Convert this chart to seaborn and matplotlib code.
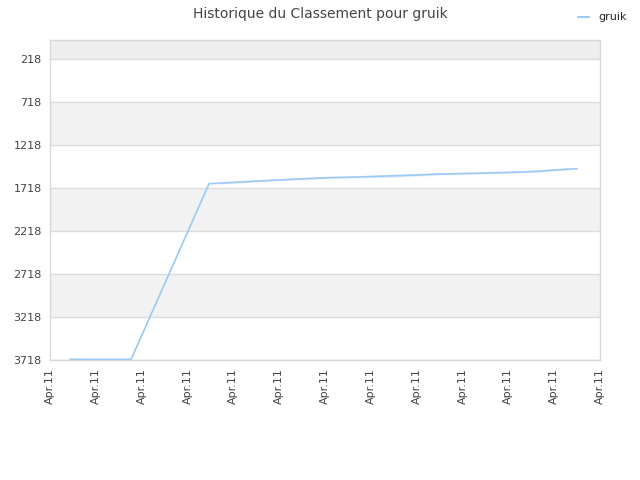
import matplotlib
matplotlib.use("Agg")
import matplotlib.pyplot as plt
import seaborn as sns
import pandas as pd

# Data (x in tick units across April 2011, rank values)
x_pos = [0.44, 0.87, 1.77, 3.47, 3.71, 3.71, 4.08, 4.08, 4.47, 4.47, 4.87, 4.87, 5.26, 5.26,
         5.65, 5.65, 6.04, 6.04, 6.68, 6.68, 7.55, 7.55, 8.42, 8.42, 9.30, 9.30, 10.15, 10.15,
         10.67, 10.67, 10.93, 10.93, 11.28, 11.28, 11.50]
ranks = [3710, 3710, 3710, 1668, 1668, 1656, 1656, 1645, 1645, 1633, 1633, 1621, 1621, 1613,
         1613, 1602, 1602, 1594, 1594, 1587, 1587, 1563, 1563, 1552, 1552, 1540, 1540, 1529,
         1529, 1517, 1517, 1505, 1505, 1494, 1494]
y_ticks = [218, 718, 1218, 1718, 2218, 2718, 3218, 3718]
x_ticks = list(range(13))
x_labels = ["Apr.11"] * 13
series_name = "gruik"
title = "Historique du Classement pour gruik"

df = pd.DataFrame({"x": x_pos, "rank": ranks, "name": series_name})

sns.set_style("white")
fig = plt.figure(figsize=(6.4, 4.8), dpi=100)
ax = fig.add_axes([50/640, 120/480, 550/640, 320/480])

ymin_top = -3
ax.axhspan(ymin_top, 218, color="#eeeeee", zorder=0, lw=0)
for i in range(len(y_ticks) - 1):
    if i % 2 == 1:
        ax.axhspan(y_ticks[i], y_ticks[i + 1], color="#f2f2f2", zorder=0, lw=0)

sns.lineplot(data=df, x="x", y="rank", hue="name", palette=["#9ec9f4"], linewidth=1.2,
             ax=ax, sort=False, legend=False, zorder=3)

ax.set_ylim(3718, ymin_top)
ax.set_xlim(0, 12)
ax.set_yticks(y_ticks)
ax.set_yticklabels([str(v) for v in y_ticks], fontsize=8, color="#444444")
ax.set_xticks(x_ticks)
ax.set_xticklabels(x_labels, rotation=90, fontsize=8, color="#444444")
ax.tick_params(length=0, pad=6)
ax.yaxis.grid(True, color="#dddddd", lw=1, zorder=1)
ax.set_axisbelow(True)
ax.set_xlabel("")
ax.set_ylabel("")
for s in ax.spines.values():
    s.set_visible(True)
    s.set_color("#d8d8d8")
    s.set_linewidth(1)

fig.suptitle(title, x=0.5, y=0.985, fontsize=10, color="#444444")

from matplotlib.lines import Line2D
fig.legend(handles=[Line2D([0], [0], color="#9ec9f4", lw=1.5)], labels=[series_name],
           loc="upper right", bbox_to_anchor=(0.995, 0.995), frameon=False, fontsize=8,
           handlelength=1.0, handletextpad=0.8)

fig.savefig("out.png", dpi=100)
